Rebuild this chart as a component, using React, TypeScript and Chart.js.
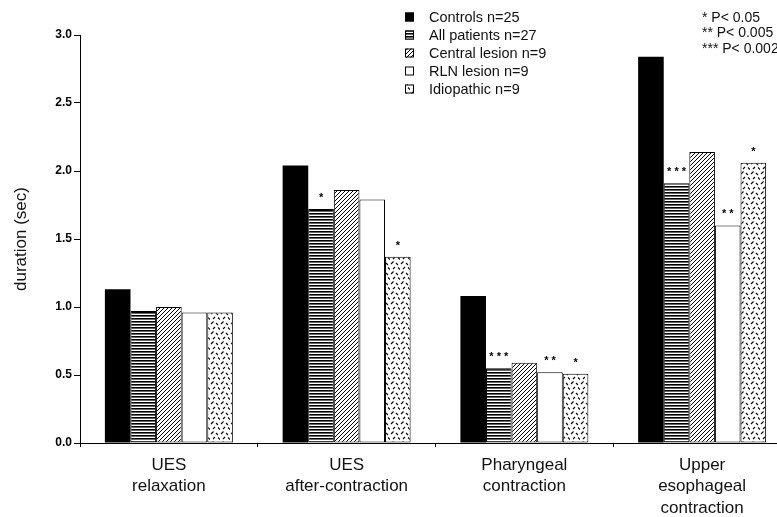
import React, { useEffect, useRef } from 'react';
import { Chart, registerables } from 'chart.js';

Chart.register(...registerables);

const categories = [
  ['UES', 'relaxation'],
  ['UES', 'after-contraction'],
  ['Pharyngeal', 'contraction'],
  ['Upper', 'esophageal', 'contraction'],
];
const seriesNames = ['Controls n=25', 'All patients n=27', 'Central lesion n=9', 'RLN lesion n=9', 'Idiopathic n=9'];
const controls = [1.13, 2.04, 1.08, 2.84];
const allPatients = [0.97, 1.72, 0.55, 1.91];
const centralLesion = [1.0, 1.86, 0.59, 2.14];
const rlnLesion = [0.96, 1.79, 0.52, 1.6];
const idiopathic = [0.96, 1.37, 0.51, 2.06];
const starsControls = ['', '', '', ''];
const starsAll = ['', '*', '***', '***'];
const starsCentral = ['', '', '', ''];
const starsRln = ['', '', '**', '**'];
const starsIdio = ['', '*', '*', '*'];
const yTickValues = [0, 0.5, 1.0, 1.5, 2.0, 2.5, 3.0];
const significanceNotes = ['* P< 0.05', '** P< 0.005', '*** P< 0.002'];

const FONT = '"Liberation Sans", Arial, Helvetica, sans-serif';

function makePattern(kind: string): CanvasPattern | string {
  const c = document.createElement('canvas');
  const ctx = c.getContext('2d')!;
  if (kind === 'horiz') {
    c.width = 4; c.height = 3;
    ctx.fillStyle = '#fff'; ctx.fillRect(0, 0, 4, 3);
    ctx.fillStyle = '#000'; ctx.fillRect(0, 0, 4, 1);
    ctx.fillStyle = '#666'; ctx.fillRect(0, 1, 4, 1);
  } else if (kind === 'diag') {
    c.width = 4; c.height = 4;
    ctx.fillStyle = '#fff'; ctx.fillRect(0, 0, 4, 4);
    ctx.strokeStyle = '#000'; ctx.lineWidth = 1;
    ctx.beginPath();
    ctx.moveTo(-1, 5); ctx.lineTo(5, -1);
    ctx.moveTo(-1, 1); ctx.lineTo(1, -1);
    ctx.moveTo(3, 5); ctx.lineTo(5, 3);
    ctx.stroke();
  } else if (kind === 'dash') {
    c.width = 10; c.height = 10;
    ctx.fillStyle = '#fff'; ctx.fillRect(0, 0, 10, 10);
    ctx.strokeStyle = '#000'; ctx.lineWidth = 1.1;
    ctx.beginPath();
    ctx.moveTo(1, 4); ctx.lineTo(3.5, 1.5);
    ctx.moveTo(6, 3); ctx.lineTo(8, 5);
    ctx.moveTo(3, 9); ctx.lineTo(5, 7);
    ctx.moveTo(8, 7.5); ctx.lineTo(10, 9.5);
    ctx.stroke();
  } else {
    return '#fff';
  }
  return ctx.createPattern(c, 'repeat')!;
}

export default function App() {
  const ref = useRef<HTMLCanvasElement | null>(null);
  useEffect(() => {
    if (!ref.current) return;
    const fills = [
      '#000',
      makePattern('horiz'),
      makePattern('diag'),
      '#fff',
      makePattern('dash'),
    ];
    const values = [controls, allPatients, centralLesion, rlnLesion, idiopathic];
    const stars = [starsControls, starsAll, starsCentral, starsRln, starsIdio];

    const legendPlugin = {
      id: 'customLegend',
      afterDraw(chart: any) {
        const ctx = chart.ctx;
        ctx.save();
        ctx.font = `14.5px ${FONT}`;
        ctx.textBaseline = 'middle';
        ctx.textAlign = 'left';
        chart.data.datasets.forEach((ds: any, i: number) => {
          const y = 17 + i * 18;
          ctx.fillStyle = ds.backgroundColor;
          ctx.fillRect(405, y - 4.5, 9, 9);
          ctx.strokeStyle = '#000';
          ctx.lineWidth = 1;
          ctx.strokeRect(405.5, y - 4, 8, 8);
          ctx.fillStyle = '#111';
          ctx.fillText(ds.label, 429, y + 1);
        });
        ctx.font = `14px ${FONT}`;
        significanceNotes.forEach((t, i) => {
          ctx.fillText(t, 702, 18 + i * 15.5);
        });
        ctx.restore();
      },
    };

    const starPlugin = {
      id: 'stars',
      afterDatasetsDraw(chart: any) {
        const ctx = chart.ctx;
        ctx.save();
        ctx.font = `bold 11px ${FONT}`;
        ctx.textAlign = 'center';
        ctx.textBaseline = 'alphabetic';
        ctx.fillStyle = '#000';
        chart.data.datasets.forEach((ds: any, i: number) => {
          const meta = chart.getDatasetMeta(i);
          meta.data.forEach((bar: any, j: number) => {
            const s = ds.stars[j];
            if (s) ctx.fillText(s.split('').join(' '), bar.x, bar.y - 8);
          });
        });
        ctx.restore();
      },
    };

    const chart = new Chart(ref.current, {
      type: 'bar',
      data: {
        labels: categories as any,
        datasets: seriesNames.map((name, i) => ({
          label: name,
          data: values[i],
          backgroundColor: fills[i] as any,
          borderColor: '#000',
          borderWidth: i === 0 ? 0 : 1,
          borderSkipped: false,
          categoryPercentage: 0.72,
          barPercentage: 1.0,
          stars: stars[i],
        })) as any,
      },
      options: {
        responsive: false,
        animation: false,
        layout: { padding: { left: 0, right: 9, top: 35, bottom: 0 } },
        plugins: { legend: { display: false }, tooltip: { enabled: false } },
        scales: {
          x: {
            grid: { display: true, drawOnChartArea: false, drawTicks: true, tickLength: 4, color: '#000', offset: true },
            border: { display: true, color: '#000', width: 1 },
            ticks: { color: '#111', font: { family: FONT, size: 17, lineHeight: 1.28 }, padding: 7, maxRotation: 0, autoSkip: false },
            afterFit: (scale: any) => { scale.height = 74; },
          },
          y: {
            min: 0,
            max: 3,
            afterBuildTicks: (scale: any) => { scale.ticks = yTickValues.map((v) => ({ value: v })); },
            grid: { display: true, drawOnChartArea: false, drawTicks: true, tickLength: 6, color: '#000' },
            border: { display: true, color: '#000', width: 1 },
            ticks: {
              color: '#000',
              font: { family: FONT, size: 12, weight: 'bold' },
              padding: 2,
              callback: (v: any) => Number(v).toFixed(1),
            },
            title: { display: true, text: 'duration (sec)', color: '#111', font: { family: FONT, size: 17 }, padding: { top: 11, bottom: 0 } },
            afterFit: (scale: any) => { scale.width = 80; },
          },
        },
      },
      plugins: [legendPlugin, starPlugin],
    } as any);
    return () => chart.destroy();
  }, []);

  return (
    <div style={{ position: 'fixed', left: 0, top: 0, width: 777, height: 517, overflow: 'hidden', background: '#fff' }}>
      <canvas ref={ref} width={800} height={517} style={{ display: 'block' }} />
    </div>
  );
}
